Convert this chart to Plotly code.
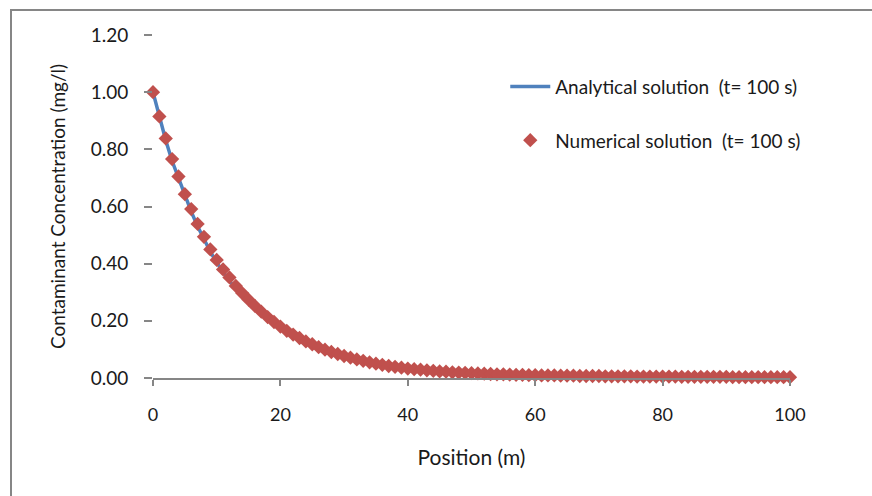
import plotly.graph_objects as go

position = list(range(0, 101))

numerical = [
    1.000, 0.915, 0.838, 0.766, 0.705, 0.643, 0.591, 0.539, 0.494, 0.450,
    0.413, 0.380, 0.352, 0.322, 0.297, 0.274, 0.252, 0.232, 0.213, 0.196,
    0.180, 0.165, 0.152, 0.140, 0.128, 0.118, 0.108, 0.099, 0.091, 0.084,
    0.077, 0.071, 0.065, 0.060, 0.055, 0.050, 0.046, 0.042, 0.039, 0.036,
    0.033, 0.031, 0.029, 0.027, 0.025, 0.023, 0.022, 0.020, 0.019, 0.018,
    0.017, 0.016, 0.015, 0.014, 0.013, 0.013, 0.012, 0.011, 0.011, 0.010,
    0.010, 0.009, 0.009, 0.009, 0.008, 0.008, 0.008, 0.007, 0.007, 0.007,
    0.007, 0.006, 0.006, 0.006, 0.006, 0.006, 0.005, 0.005, 0.005, 0.005,
    0.005, 0.005, 0.005, 0.004, 0.004, 0.004, 0.004, 0.004, 0.004, 0.004,
    0.004, 0.003, 0.003, 0.003, 0.003, 0.003, 0.003, 0.003, 0.003, 0.003,
    0.003,
]

analytical = [
    1.000, 0.912, 0.832, 0.759, 0.697, 0.635, 0.582, 0.531, 0.485, 0.442,
    0.404, 0.370, 0.340, 0.312, 0.287, 0.264, 0.242, 0.222, 0.204, 0.187,
    0.171, 0.157, 0.144, 0.132, 0.121, 0.111, 0.102, 0.093, 0.086, 0.079,
    0.072, 0.066, 0.061, 0.056, 0.051, 0.047, 0.043, 0.040, 0.036, 0.033,
    0.031, 0.028, 0.026, 0.024, 0.022, 0.020, 0.019, 0.017, 0.016, 0.015,
    0.014, 0.013, 0.012, 0.011, 0.010, 0.009, 0.009, 0.008, 0.007, 0.007,
    0.006, 0.006, 0.005, 0.005, 0.005, 0.004, 0.004, 0.004, 0.003, 0.003,
    0.003, 0.003, 0.003, 0.002, 0.002, 0.002, 0.002, 0.002, 0.002, 0.002,
    0.001, 0.001, 0.001, 0.001, 0.001, 0.001, 0.001, 0.001, 0.001, 0.001,
    0.001, 0.001, 0.001, 0.001, 0.001, 0.001, 0.001, 0.001, 0.001, 0.001,
    0.001,
]

y_ticks = [0.0, 0.2, 0.4, 0.6, 0.8, 1.0, 1.2]
y_tick_labels = ["0.00", "0.20", "0.40", "0.60", "0.80", "1.00", "1.20"]
x_ticks = [0, 20, 40, 60, 80, 100]

FONT = "Lato, 'Open Sans', sans-serif"
GRAY = "#868686"

fig = go.Figure()
fig.add_trace(go.Scatter(
    x=position, y=analytical, mode="lines",
    name="Analytical solution  (t= 100 s)",
    line=dict(color="#4F81BD", width=3.5),
    legendgroup="a",
))
fig.add_trace(go.Scatter(
    x=position, y=numerical, mode="markers",
    name="Numerical solution  (t= 100 s)",
    marker=dict(symbol="diamond", color="#C0504D", size=11, line=dict(width=0)),
    legendgroup="b",
    cliponaxis=False,
))

fig.update_layout(
    width=872, height=496,
    margin=dict(l=153, r=82, t=35, b=118),
    paper_bgcolor="white", plot_bgcolor="white",
    font=dict(family=FONT, size=19, color="#1a1a1a"),
    showlegend=True,
    legend=dict(
        x=0.553, y=0.905, xanchor="left", yanchor="top",
        bgcolor="rgba(0,0,0,0)", font=dict(size=19),
        tracegroupgap=26, itemwidth=40,
    ),
    xaxis=dict(
        range=[0, 100], tickvals=x_ticks, showgrid=False, zeroline=False,
        showline=True, linecolor=GRAY, linewidth=1.5,
        ticks="outside", ticklen=6, tickcolor=GRAY, tickwidth=1.5,
        ticklabelstandoff=14,
        title=dict(text="Position (m)", font=dict(size=21), standoff=26),
        tickfont=dict(size=18),
    ),
    yaxis=dict(
        range=[0, 1.2], tickvals=y_ticks, ticktext=y_tick_labels,
        showgrid=False, zeroline=False, showline=False,
        ticks="outside", ticklen=8, tickcolor=GRAY, tickwidth=1.5,
        ticklabelstandoff=12,
        title=dict(text="Contaminant Concentration (mg/l)", font=dict(size=19), standoff=20),
        tickfont=dict(size=19),
    ),
)

fig.add_shape(
    type="rect", xref="paper", yref="paper",
    x0=(11 - 153) / 637, x1=(900 - 153) / 637,
    y0=(378 - 520) / 343, y1=(378 - 10) / 343,
    line=dict(color=GRAY, width=2), fillcolor="rgba(0,0,0,0)", layer="below",
)

fig.write_html("out.html")
